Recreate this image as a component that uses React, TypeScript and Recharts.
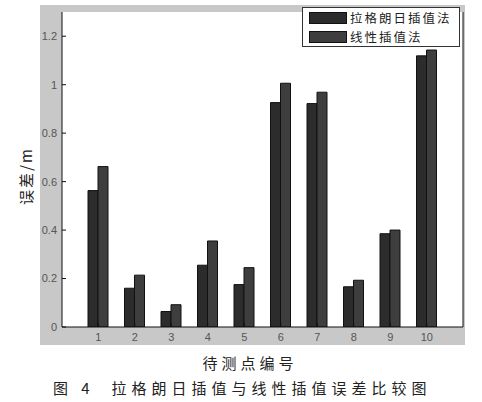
import React from "react"
import { Bar, BarChart, CartesianGrid, XAxis, YAxis } from "recharts"

const points = ["1", "2", "3", "4", "5", "6", "7", "8", "9", "10"]
const lagrange = [0.563, 0.16, 0.064, 0.255, 0.175, 0.926, 0.922, 0.166, 0.385, 1.119]
const linear = [0.662, 0.214, 0.092, 0.355, 0.245, 1.006, 0.969, 0.193, 0.4, 1.143]
const yTicks = [0, 0.2, 0.4, 0.6, 0.8, 1, 1.2]

const seriesNames = ["拉格朗日插值法", "线性插值法"]
const seriesColors = ["#2c2c2c", "#3e3e3e"]

const data = points.map((p, i) => ({ point: p, lagrange: lagrange[i], linear: linear[i] }))

const cjk = '"Noto Sans CJK SC", "Noto Sans", sans-serif'
const tickStyle = { fontSize: 11, fill: "#555", fontFamily: '"Liberation Sans", Arial, sans-serif' }

function LegendBox() {
  return (
    <div
      style={{
        position: "absolute",
        left: 302,
        top: 7,
        width: 158,
        height: 40,
        background: "#fff",
        border: "1px solid #333",
        boxSizing: "border-box",
        paddingTop: 1,
      }}
    >
      {seriesNames.map((name, i) => (
        <div key={name} style={{ display: "flex", alignItems: "center", height: 18.5 }}>
          <div
            style={{
              width: 38,
              height: 12,
              marginLeft: 6,
              marginRight: 3,
              background: seriesColors[i],
              border: "1px solid #111",
              boxSizing: "border-box",
            }}
          />
          <span style={{ fontFamily: cjk, fontSize: 12.5, color: "#222", letterSpacing: 2, lineHeight: "18px" }}>
            {name}
          </span>
        </div>
      ))}
    </div>
  )
}

export default function App() {
  return (
    <div style={{ position: "absolute", left: 0, top: 0, width: 482, height: 402, background: "#fff" }}>
      <div style={{ position: "absolute", left: 40, top: 5, width: 425, height: 340, background: "#c8c8c8" }} />
      <div style={{ position: "absolute", left: 40, top: 5 }}>
        <BarChart
          width={425}
          height={340}
          data={data}
          margin={{ top: 7, right: 0, bottom: 0, left: 0 }}
          barSize={10}
          barGap={0}
        >
          <CartesianGrid fill="#fff" horizontal={false} vertical={false} />
          <XAxis
            dataKey="point"
            height={18}
            padding={{ left: 18, right: 18 }}
            axisLine={{ stroke: "#111" }}
            tickLine={{ stroke: "#111" }}
            tickSize={-4}
            tickMargin={10}
            tick={tickStyle}
            interval={0}
          />
          <XAxis
            xAxisId="top"
            dataKey="point"
            orientation="top"
            height={0}
            padding={{ left: 18, right: 18 }}
            axisLine={{ stroke: "#111" }}
            tickLine={{ stroke: "#111" }}
            tickSize={-4}
            tickFormatter={() => ""}
            interval={0}
          />
          <YAxis
            width={22}
            domain={[0, 1.3]}
            ticks={yTicks}
            axisLine={{ stroke: "#111" }}
            tickLine={{ stroke: "#111" }}
            tickSize={-4}
            tickMargin={9}
            tick={tickStyle}
            allowDataOverflow
          />
          <YAxis
            yAxisId="right"
            orientation="right"
            width={2}
            domain={[0, 1.3]}
            ticks={yTicks}
            axisLine={{ stroke: "#111" }}
            tickLine={{ stroke: "#111" }}
            tickSize={-4}
            tickFormatter={() => ""}
          />
          <Bar dataKey="lagrange" name={seriesNames[0]} fill={seriesColors[0]} stroke="#111" strokeWidth={1} isAnimationActive={false} />
          <Bar dataKey="linear" name={seriesNames[1]} fill={seriesColors[1]} stroke="#111" strokeWidth={1} isAnimationActive={false} />
        </BarChart>
      </div>
      <LegendBox />
      <div
        style={{
          position: "absolute",
          left: 25,
          top: 176,
          transform: "translate(-50%, -50%) rotate(-90deg)",
          fontFamily: cjk,
          fontSize: 15,
          letterSpacing: 2,
          color: "#222",
          whiteSpace: "nowrap",
        }}
      >
        误差/m
      </div>
      <div
        style={{
          position: "absolute",
          left: 0,
          width: 500,
          top: 352,
          textAlign: "center",
          fontFamily: cjk,
          fontSize: 15,
          letterSpacing: 4,
          color: "#222",
          whiteSpace: "nowrap",
        }}
      >
        待测点编号
      </div>
      <div
        style={{
          position: "absolute",
          left: 53,
          top: 377,
          fontFamily: cjk,
          fontSize: 15,
          letterSpacing: 5,
          color: "#222",
          whiteSpace: "pre",
        }}
      >
        {"图 4  拉格朗日插值与线性插值误差比较图"}
      </div>
    </div>
  )
}
